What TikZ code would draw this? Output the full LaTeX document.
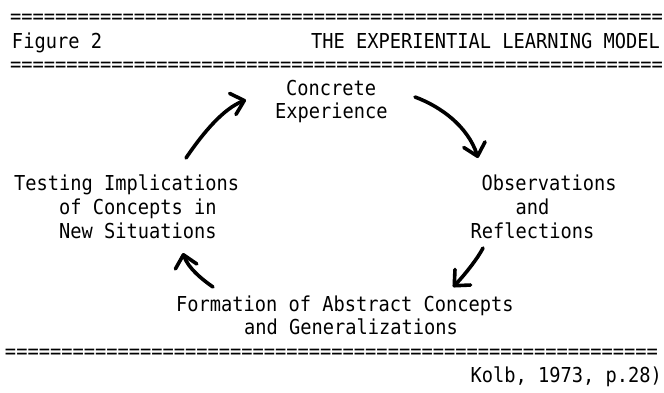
\documentclass[tikz,border=0pt]{standalone}
\usepackage{graphicx}
\usepackage{fontspec}
\newfontfamily\dm{DejaVu Sans Mono}
\usetikzlibrary{arrows.meta,bending}
\newcommand\tallline[1]{\scalebox{1}[1.1]{#1}}
\begin{document}
\begin{tikzpicture}[x=1pt,y=-1pt,
  txt/.style={anchor=base west, inner sep=0pt, outer sep=0pt,
    font=\dm\fontsize{18.7}{22}\selectfont},
  cyc/.style={line width=3.6pt, line cap=round, line join=round,
    -{Straight Barb[length=12pt,width=22pt,round]}}]
\useasboundingbox (0,0) rectangle (664,392);
\fill[white] (0,0) rectangle (664,392);

% rules and header
\node[txt] (rule1) at (10,23) {\tallline{==========================================================}};
\node[txt] (fig) at (12,48.5) {\tallline{Figure 2}};
\node[txt] (title) at (311,48.5) {\tallline{THE EXPERIENTIAL LEARNING MODEL}};
\node[txt] (rule2) at (10,71) {\tallline{==========================================================}};

% Concrete Experience
\node[txt] (ce1) at (286,95) {\tallline{Concrete}};
\node[txt] (ce2) at (275,118) {\tallline{Experience}};

% Testing Implications
\node[txt] (ti1) at (14,190) {\tallline{Testing Implications}};
\node[txt] (ti2) at (59,214) {\tallline{of Concepts in}};
\node[txt] (ti3) at (59,238) {\tallline{New Situations}};

% Observations and Reflections
\node[txt] (or1) at (481.5,190) {\tallline{Observations}};
\node[txt] (or2) at (515.5,214) {\tallline{and}};
\node[txt] (or3) at (470.5,238) {\tallline{Reflections}};

% Formation of Abstract Concepts
\node[txt] (fa1) at (176,311) {\tallline{Formation of Abstract Concepts}};
\node[txt] (fa2) at (244,334) {\tallline{and Generalizations}};

% bottom rule and source
\node[txt] (rule3) at (5,358) {\tallline{==========================================================}};
\node[txt] (src) at (470.5,382) {\tallline{Kolb, 1973, p.28)}};

% cycle arrows
\coordinate (a1s) at (186,158);
\coordinate (a1e) at (246,100);
\coordinate (a2s) at (415,97);
\coordinate (a2e) at (478,158);
\coordinate (a3s) at (483,248);
\coordinate (a3e) at (453,287);
\coordinate (a4s) at (213,287);
\coordinate (a4e) at (183,253);

\draw[cyc] (a1s) .. controls (205,130) and (226,106) .. (a1e);
\draw[cyc] (a2s) .. controls (442,107) and (470,128) .. (a2e);
\draw[cyc] (a3s) .. controls (478,258) and (464,276) .. (a3e);
\draw[cyc] (a4s) .. controls (200,278) and (186,266) .. (a4e);
\end{tikzpicture}
\end{document}
